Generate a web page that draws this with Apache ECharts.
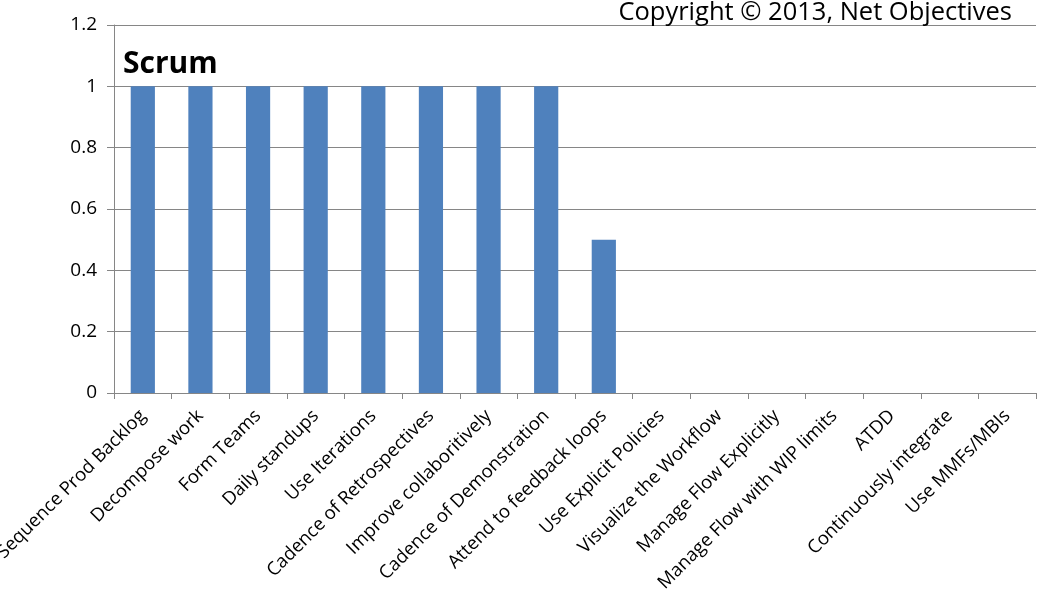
<!DOCTYPE html>
<html>
<head>
    <meta charset="utf-8">
    <title>Scrum</title>
    <style>
        html, body { margin: 0; padding: 0; background: #fff; }
        #chart { width: 1038px; height: 594px; }
    </style>
</head>
<body>
<div id="chart"></div>
<script src="https://cdn.jsdelivr.net/npm/echarts@6/dist/echarts.min.js"></script>
<script>
    var categories = [
        'Sequence Prod Backlog', 'Decompose work', 'Form Teams', 'Daily standups',
        'Use Iterations', 'Cadence of Retrospectives', 'Improve collaboritively',
        'Cadence of Demonstration', 'Attend to feedback loops', 'Use Explicit Policies',
        'Visualize the Workflow', 'Manage Flow Explicitly', 'Manage Flow with WIP limits',
        'ATDD', 'Continuously integrate', 'Use MMFs/MBIs'
    ];
    var scrumValues = [1, 1, 1, 1, 1, 1, 1, 1, 0.5, 0, 0, 0, 0, 0, 0, 0];
    var yMin = 0, yMax = 1.2, yStep = 0.2;

    var font = '"Open Sans", "Liberation Sans", sans-serif';
    var chart = echarts.init(document.getElementById('chart'));

    var option = {
        animation: false,
        backgroundColor: '#ffffff',
        title: [
            {
                text: 'Scrum',
                left: 118, top: 44,
                textStyle: { fontFamily: font, fontSize: 30, fontWeight: 'bold', color: '#000' }
            },
            {
                text: 'Copyright \u00a9 2013, Net Objectives',
                right: 21, top: -5,
                textStyle: { fontFamily: font, fontSize: 25.5, fontWeight: 'normal', color: '#000' }
            }
        ],
        grid: { left: 114, right: 2, top: 25, bottom: 201, containLabel: false, outerBoundsMode: 'none' },
        xAxis: {
            type: 'category',
            data: categories,
            axisLine: { lineStyle: { color: '#868686', width: 1 } },
            axisTick: { show: true, alignWithLabel: false, length: 6, lineStyle: { color: '#868686' } },
            axisLabel: {
                interval: 0, rotate: 45, margin: 20,
                fontFamily: font, fontSize: 18.5, color: '#000'
            }
        },
        yAxis: {
            type: 'value',
            min: yMin, max: yMax, interval: yStep,
            axisLine: { show: true, lineStyle: { color: '#868686' } },
            axisTick: { show: true, length: 7, lineStyle: { color: '#868686' } },
            splitLine: { lineStyle: { color: '#868686', width: 1 } },
            axisLabel: {
                margin: 17, fontFamily: font, fontSize: 19, color: '#000',
                formatter: function (v) { return String(Math.round(v * 10) / 10); }
            }
        },
        series: [
            {
                name: 'Scrum',
                type: 'bar',
                data: scrumValues,
                barWidth: '42%',
                itemStyle: { color: '#4F81BD' }
            }
        ]
    };
    chart.setOption(option);
</script>
</body>
</html>
